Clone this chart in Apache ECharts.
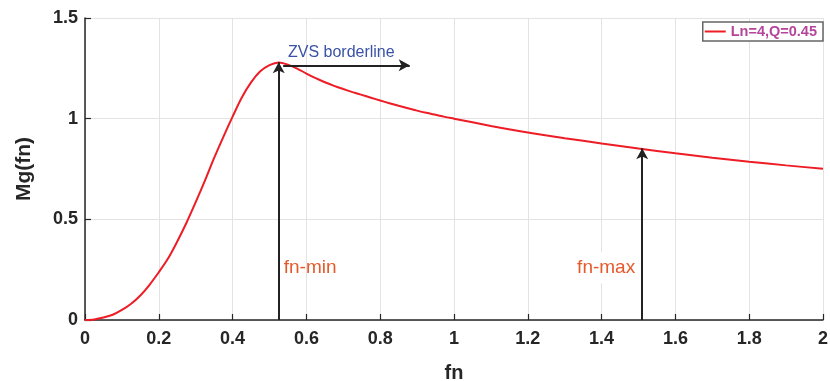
<!DOCTYPE html>
<html>
<head>
<meta charset="utf-8">
<script src="https://cdn.jsdelivr.net/npm/echarts@6/dist/echarts.min.js"></script>
<style>
  html, body { margin: 0; padding: 0; background: #fff; }
  #chart { width: 830px; height: 381px; }
</style>
</head>
<body>
<div id="chart"></div>
<script>
// Gain curve
const fnValues = [0, 0.025, 0.05, 0.075, 0.1, 0.125, 0.15, 0.175, 0.2, 0.225, 0.25, 0.275, 0.3, 0.325, 0.35, 0.375,
                  0.4, 0.425, 0.45, 0.475, 0.5, 0.525, 0.55, 0.575, 0.6, 0.625, 0.65, 0.675, 0.7, 0.725, 0.75, 0.775,
                  0.8, 0.825, 0.85, 0.875, 0.9, 0.925, 0.95, 0.975, 1.0,
                  1.1, 1.2, 1.3, 1.4, 1.5, 1.6, 1.7, 1.8, 1.9, 2.0];
const mgValues = [0, 0.003, 0.012, 0.026, 0.05, 0.081, 0.122, 0.175, 0.237, 0.305, 0.39, 0.483, 0.585, 0.692, 0.805, 0.91,
                  1.01, 1.105, 1.18, 1.235, 1.266, 1.279, 1.268, 1.249, 1.224, 1.201, 1.181, 1.163, 1.147, 1.132, 1.118, 1.104,
                  1.09, 1.077, 1.064, 1.052, 1.04, 1.029, 1.019, 1.009, 1.0,
                  0.964, 0.931, 0.903, 0.877, 0.852, 0.828, 0.806, 0.786, 0.768, 0.751];
const seriesName = 'Ln=4,Q=0.45';

// Annotations (data coordinates)
const fnMin = 0.525;
const fnMinGain = 1.28;
const fnMax = 1.51;
const fnMaxGain = 0.853;
const zvsArrow = [[0.537, 1.265], [0.88, 1.265]];
const labelGain = 0.26;

const font = '"Liberation Sans", Arial, Helvetica, sans-serif';
const curveData = fnValues.map((x, i) => [x, mgValues[i]]);

const arrowStyle = { color: '#222', width: 2, type: 'solid' };

const myChart = echarts.init(document.getElementById('chart'));
const option = {
    backgroundColor: '#fff',
    animation: false,
    grid: { left: 85, right: 7, top: 18, bottom: 61, containLabel: false, outerBoundsMode: 'none' },
    legend: {
        right: 7,
        top: 22,
        data: [seriesName],
        icon: 'rect',
        itemWidth: 21,
        itemHeight: 2,
        itemGap: 2,
        padding: [2, 6, 2, 2],
        borderColor: '#666',
        borderWidth: 1.5,
        backgroundColor: '#fff',
        textStyle: { color: '#b5459b', fontWeight: 'bold', fontSize: 14.5, fontFamily: font }
    },
    xAxis: {
        type: 'value',
        min: 0,
        max: 2,
        interval: 0.2,
        name: 'fn',
        nameLocation: 'middle',
        nameGap: 43,
        nameTextStyle: { color: '#262626', fontWeight: 'bold', fontSize: 20, fontFamily: font },
        axisLine: { show: true, onZero: false, lineStyle: { color: '#262626', width: 1.5 } },
        axisTick: { show: true, inside: true, length: 6, lineStyle: { color: '#262626', width: 1.2 } },
        axisLabel: { color: '#262626', fontWeight: 'bold', fontSize: 18, fontFamily: font, margin: 10 },
        splitLine: { show: true, lineStyle: { color: '#e3e3e3', width: 1 } }
    },
    yAxis: {
        type: 'value',
        min: 0,
        max: 1.5,
        interval: 0.5,
        name: 'Mg(fn)',
        nameLocation: 'middle',
        nameGap: 50,
        nameTextStyle: { color: '#262626', fontWeight: 'bold', fontSize: 21, fontFamily: font },
        axisLine: { show: true, onZero: false, lineStyle: { color: '#262626', width: 1.5 } },
        axisTick: { show: true, inside: true, length: 6, lineStyle: { color: '#262626', width: 1.2 } },
        axisLabel: { color: '#262626', fontWeight: 'bold', fontSize: 18, fontFamily: font, margin: 7 },
        splitLine: { show: true, lineStyle: { color: '#e3e3e3', width: 1 } }
    },
    series: [
        {
            name: seriesName,
            type: 'line',
            data: curveData,
            smooth: 0.3,
            showSymbol: false,
            itemStyle: { color: '#ee1c25' },
            lineStyle: { color: '#ee1c25', width: 2 },
            z: 3
        },
        {
            name: 'annotations',
            type: 'line',
            data: [],
            z: 4,
            markLine: {
                silent: true,
                animation: false,
                symbol: ['none', 'arrow'],
                symbolSize: [9, 11],
                lineStyle: arrowStyle,
                label: { show: false },
                data: [
                    [{ coord: [fnMin, 0] }, { coord: [fnMin, fnMinGain] }],
                    [{ coord: [fnMax, 0] }, { coord: [fnMax, fnMaxGain] }],
                    [{ coord: zvsArrow[0] }, { coord: zvsArrow[1] }]
                ]
            },
            markPoint: {
                silent: true,
                animation: false,
                symbol: 'circle',
                symbolSize: 0,
                data: [
                    {
                        coord: [fnMin, labelGain],
                        label: { show: true, formatter: 'fn-min', position: 'right', distance: 5,
                                 color: '#e55a2b', fontSize: 19, fontFamily: font }
                    },
                    {
                        coord: [fnMax, labelGain],
                        label: { show: true, formatter: 'fn-max', position: 'left', distance: 5,
                                 color: '#e55a2b', fontSize: 19, fontFamily: font,
                                 backgroundColor: '#fff', padding: [6, 2, 6, 2] }
                    },
                    {
                        coord: [0.55, 1.33],
                        label: { show: true, formatter: 'ZVS borderline', position: 'right', distance: 0,
                                 color: '#3a52a6', fontSize: 16, fontFamily: font }
                    }
                ]
            }
        }
    ]
};
myChart.setOption(option);
</script>
</body>
</html>
